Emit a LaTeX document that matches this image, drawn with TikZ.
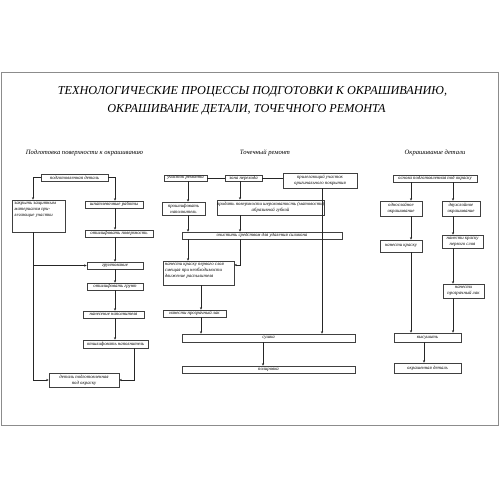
\documentclass[tikz,border=0pt]{standalone}
\usepackage{fontspec}
\setmainfont{Liberation Serif}
\usetikzlibrary{arrows.meta}
\begin{document}
\begin{tikzpicture}[x=1pt,y=-1pt,
  bx/.style={draw=black!75, line width=0.5pt, inner sep=0pt, align=center,
    font=\fontsize{4.8}{5.8}\selectfont\itshape},
  ebx/.style={draw=black!75, line width=0.5pt, inner sep=0pt},
  txt/.style={inner sep=0pt, align=left, font=\fontsize{4.8}{6}\selectfont\itshape},
  ln/.style={draw=black!85, line width=0.6pt},
  ar/.style={ln, -{Stealth[length=2.6pt,width=2.2pt]}},
  ttl/.style={inner sep=0pt, font=\fontsize{12.2}{15}\selectfont\itshape},
  sub/.style={inner sep=0pt, font=\fontsize{6.6}{8}\selectfont\itshape}]
\useasboundingbox (0,0) rectangle (500,500);
\draw[black!45, line width=1pt] (1.5,73) rectangle (498.5,425);
% title
\node[ttl] (title1) at (252.5,92) {ТЕХНОЛОГИЧЕСКИЕ ПРОЦЕССЫ ПОДГОТОВКИ К ОКРАШИВАНИЮ,};
\node[ttl] (title2) at (246.5,109.5) {ОКРАШИВАНИЕ ДЕТАЛИ, ТОЧЕЧНОГО РЕМОНТА};
\node[sub] (s1) at (84.5,153) {Подготовка поверхности к окрашиванию};
\node[sub] (s2) at (265,153) {Точечный ремонт};
\node[sub] (s3) at (435,153) {Окрашивание детали};
% coordinates
\coordinate (xa) at (33,0); \coordinate (xb) at (115,0); \coordinate (xc) at (134,0);
\coordinate (xd) at (188,0); \coordinate (xe) at (240,0); \coordinate (xf) at (322,0);
\coordinate (xg) at (201,0); \coordinate (xh) at (263,0);
\coordinate (xi) at (411,0); \coordinate (xj) at (453,0); \coordinate (xk) at (424,0);
\coordinate (ys) at (0,265);
% left column
\node[bx, minimum width=67, minimum height=7] (pd) at (74.5,177.5) {подготовленная деталь};
\node[ebx, minimum width=53, minimum height=32] (zk) at (38.5,216) {};
\node[txt, anchor=north west] (zkt) at ([xshift=2.5,yshift=-2]zk.north west) {закрыть защитным\\материалом при-\\легающие участки};
\node[bx, minimum width=58, minimum height=7] (shp) at (114,204.5) {шпатлевочные работы};
\node[bx, minimum width=68, minimum height=7] (otp) at (119,233.5) {отшлифовать поверхность};
\node[bx, minimum width=56, minimum height=7] (gr) at (115,265.5) {грунтование};
\node[bx, minimum width=56, minimum height=7] (og) at (115,286.5) {отшлифовать грунт};
\node[bx, minimum width=61, minimum height=7] (nn) at (113.5,314.5) {нанесение наполнителя};
\node[bx, minimum width=65, minimum height=8] (on) at (115.5,344) {отшлифовать наполнитель};
\node[bx, minimum width=70, minimum height=14] (dp) at (84,380) {деталь подготовленная\\под окраску};
\draw[ar] (pd.west) -| (zk.north -| xa);
\draw[ar] (pd.east) -| (shp.north -| xb);
\draw[ar] (shp.south -| xb) -- (otp.north -| xb);
\draw[ar] (otp.south -| xb) -- (gr.north -| xb);
\draw[ar] (gr.south -| xb) -- (og.north -| xb);
\draw[ar] (og.south -| xb) -- (nn.north -| xb);
\draw[ar] (nn.south -| xb) -- (on.north -| xb);
\draw[ar] (zk.south -| xa) |- (dp.west);
\draw[ar] (gr.west -| xa) -- (gr.west);
\draw[ar] (on.south -| xc) |- (dp.east);
% middle column
\node[bx, minimum width=43, minimum height=6] (ur) at (185.5,178) {участок ремонта};
\node[bx, minimum width=37, minimum height=6] (zp) at (243.5,178) {зона перехода};
\node[bx, minimum width=74, minimum height=15] (pu) at (320,180.5) {прилегающий участок\\оригинального покрытия};
\node[bx, minimum width=43, minimum height=13] (pn) at (183.5,208.5) {прошлифовать\\наполнитель};
\node[bx, minimum width=75, minimum height=15] (pr) at (270.5,207.5) {придать поверхности шероховатость (матовость)\\абразивной губкой};
\node[bx, minimum width=160, minimum height=7] (oc) at (262,235.5) {очистить средством для удаления силикона};
\node[ebx, minimum width=71, minimum height=24] (nk) at (198.5,273) {};
\node[txt, anchor=north west] (nkt) at ([xshift=2,yshift=-2.5]nk.north west) {нанести краску первого слоя\\смещая при необходимости\\движение распылителя};
\node[bx, minimum width=63, minimum height=7] (nl) at (194.5,313.5) {нанести прозрачный лак};
\node[bx, minimum width=173, minimum height=8] (su) at (268.5,338) {сушка};
\node[bx, minimum width=173, minimum height=7] (po) at (268.5,369.5) {полировка};
\draw[ln] (ur.east) -- (zp.west);
\draw[ln] (zp.east) -- (zp.east -| pu.west);
\draw[ar] (ur.south -| xd) -- (pn.north -| xd);
\draw[ar] (zp.south -| xe) -- (pr.north -| xe);
\draw[ar] (pn.south -| xd) -- (oc.north -| xd);
\draw[ar] (pr.south -| xe) -- (oc.north -| xe);
\draw[ar] (pu.south -| xf) -- (su.north -| xf);
\draw[ar] (oc.south -| xd) -- (nk.north -| xd);
\draw[ar] (oc.south -| xe) |- (nk.east |- ys);
\draw[ar] (nk.south -| xg) -- (nl.north -| xg);
\draw[ar] (nl.south -| xg) -- (su.north -| xg);
\draw[ar] (su.south -| xh) -- (po.north -| xh);
% right column
\node[bx, minimum width=84, minimum height=7] (os) at (435,178.5) {основа подготовленная под окраску};
\node[bx, minimum width=42, minimum height=15] (od) at (401,208.5) {однослойное\\окрашивание};
\node[bx, minimum width=38, minimum height=15] (dv) at (461,208.5) {двухслойное\\окрашивание};
\node[bx, minimum width=42, minimum height=12] (nkr) at (401,246) {нанести краску};
\node[bx, minimum width=41, minimum height=13] (nkp) at (462.5,241.5) {нанести краску\\первого слоя};
\node[bx, minimum width=41, minimum height=14] (nlr) at (463.5,291) {нанести\\прозрачный лак};
\node[bx, minimum width=67, minimum height=9] (vy) at (427.5,337.5) {высушить};
\node[bx, minimum width=67, minimum height=10] (ok) at (427.5,368) {окрашенная деталь};
\draw[ar] (os.south -| xi) -- (od.north -| xi);
\draw[ar] (os.south -| xj) -- (dv.north -| xj);
\draw[ar] (od.south -| xi) -- (nkr.north -| xi);
\draw[ar] (dv.south -| xj) -- (nkp.north -| xj);
\draw[ar] (nkr.south -| xi) -- (vy.north -| xi);
\draw[ar] (nkp.south -| xj) -- (nlr.north -| xj);
\draw[ar] (nlr.south -| xj) -- (vy.north -| xj);
\draw[ar] (vy.south -| xk) -- (ok.north -| xk);
\end{tikzpicture}
\end{document}
